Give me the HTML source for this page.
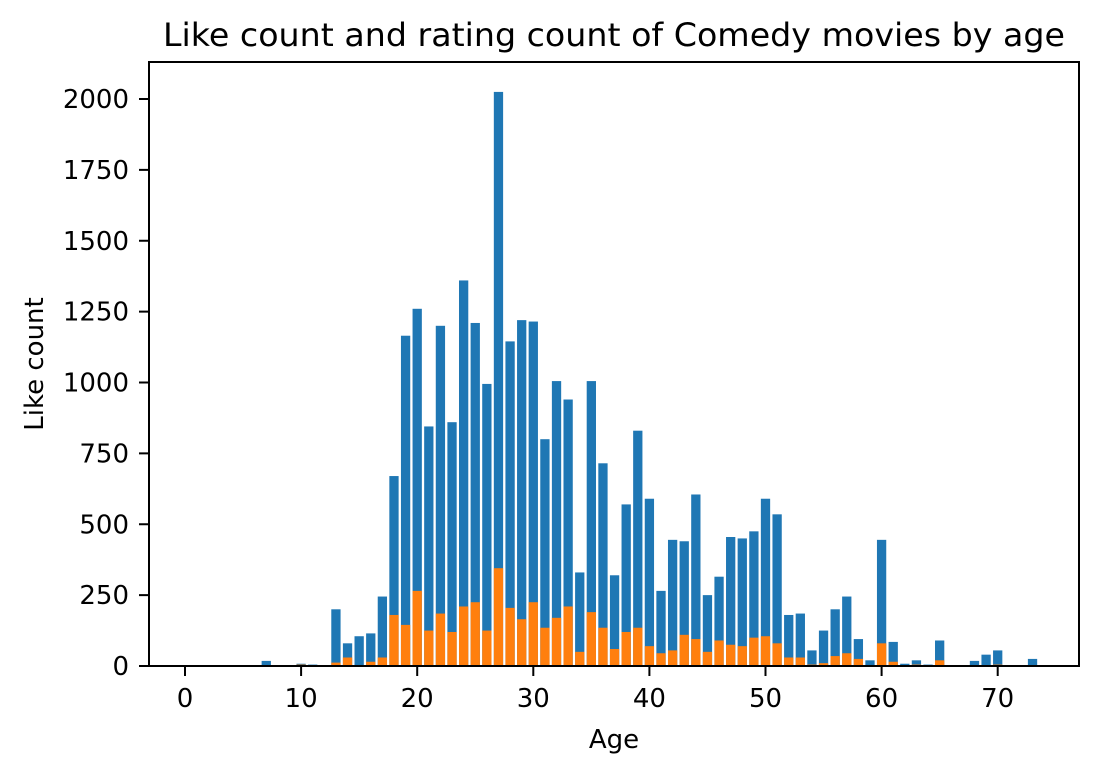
<!DOCTYPE html>
<html><head><meta charset="utf-8"><style>
body{margin:0;background:#fff}
svg text{font-family:"DejaVu Sans","Liberation Sans",sans-serif;fill:#000}
</style></head><body>
<svg id="chart" width="1099" height="773" xmlns="http://www.w3.org/2000/svg">
<rect width="1099" height="773" fill="#fff"/>
<text x="614" y="46" font-size="32" text-anchor="middle" textLength="902" lengthAdjust="spacingAndGlyphs">Like count and rating count of Comedy movies by age</text>
<g id="bars"></g>
<g id="axes"></g>
<rect x="149" y="62" width="930" height="604" fill="none" stroke="#000" stroke-width="2"/>
<text x="614" y="748" font-size="26" text-anchor="middle">Age</text>
<text transform="translate(43,364) rotate(-90)" font-size="26" text-anchor="middle">Like count</text>
</svg>
<script>
const ages=[7,10,11,13,14,15,16,17,18,19,20,21,22,23,24,25,26,27,28,29,30,31,32,33,34,35,36,37,38,39,40,41,42,43,44,45,46,47,48,49,50,51,52,53,54,55,56,57,58,59,60,61,62,63,64,65,68,69,70,73];
const likes=[18,8,5,200,80,105,115,245,670,1165,1260,845,1200,860,1360,1210,995,2025,1145,1220,1215,800,1005,940,330,1005,715,320,570,830,590,265,445,440,605,250,315,455,450,475,590,535,180,185,55,125,200,245,95,20,445,85,8,20,5,90,18,40,55,25];
const ratings=[0,5,0,12,30,0,15,30,180,145,265,125,185,120,210,225,125,345,205,165,225,135,170,210,50,190,135,60,120,135,70,45,55,110,95,50,90,75,70,100,105,80,30,30,5,10,35,45,25,3,80,15,2,5,2,20,0,3,5,3];
const xTicks=[0,10,20,30,40,50,60,70];
const yTicks=[0,250,500,750,1000,1250,1500,1750,2000];
const X=a=>185+11.61*a, Y=v=>666-v*0.2835;
const NS="http://www.w3.org/2000/svg";
const bars=document.getElementById('bars'), axes=document.getElementById('axes');
function mk(tag,attrs,parent){const e=document.createElementNS(NS,tag);for(const k in attrs)e.setAttribute(k,attrs[k]);parent.appendChild(e);return e;}
const bw=0.8*11.61;
ages.forEach((a,i)=>{
  const b=mk('rect',{x:X(a)-bw/2,y:Y(likes[i]),width:bw,height:666-Y(likes[i]),fill:'#1f77b4'},bars);
  
  
});
ages.forEach((a,i)=>{
  const b=mk('rect',{x:X(a)-bw/2,y:Y(ratings[i]),width:bw,height:666-Y(ratings[i]),fill:'#ff7f0e'},bars);
  
  
});
xTicks.forEach(t=>{
  const l=mk('line',{x1:X(t),x2:X(t),y1:666,y2:676,stroke:'#000','stroke-width':2},axes);
  
  
  const tx=mk('text',{x:X(t),y:707,'font-size':26,'text-anchor':'middle'},axes);tx.textContent=t;
  
  
});
yTicks.forEach(t=>{
  const l=mk('line',{x1:139,x2:149,y1:Y(t),y2:Y(t),stroke:'#000','stroke-width':2},axes);
  
  
  const tx=mk('text',{x:129,y:Y(t)+9,'font-size':26,'text-anchor':'end'},axes);tx.textContent=t;
  
  
});
</script>
</body></html>
